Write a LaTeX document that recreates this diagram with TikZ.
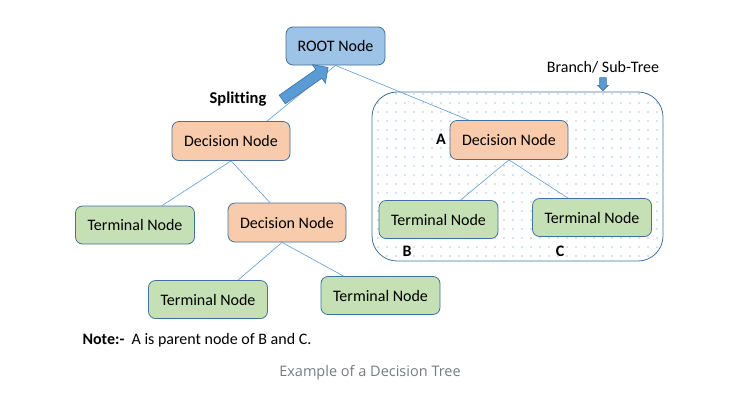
\documentclass[tikz,border=0pt]{standalone}
\usepackage{fontspec}
\setmainfont{Carlito}[Ligatures=NoCommon]
\newfontfamily\leyendafont{Open Sans}
\usetikzlibrary{calc,shapes.arrows,patterns.meta}
\definecolor{borde}{HTML}{41719C}
\definecolor{raiz}{HTML}{9DC3E6}
\definecolor{decision}{HTML}{F8CBAD}
\definecolor{terminal}{HTML}{C5E0B4}
\definecolor{linea}{HTML}{5B9BD5}
\definecolor{flecha}{HTML}{5B9BD5}
\definecolor{punto}{HTML}{4A86C5}
\definecolor{leyenda}{HTML}{767B83}
\tikzset{
  caja/.style={draw=borde, line width=0.8pt, rounded corners=7pt, inner sep=0pt,
    font=\fontsize{16}{19}\selectfont},
  nodoraiz/.style={caja, fill=raiz, minimum width=99pt, minimum height=38pt},
  nododec/.style={caja, fill=decision, minimum width=118pt, minimum height=39pt},
  nodoterm/.style={caja, fill=terminal, minimum width=119pt, minimum height=38pt},
  conector/.style={draw=linea, line width=0.6pt},
  etiqueta/.style={font=\fontsize{16}{19}\selectfont\bfseries},
  bloque/.style={single arrow, draw=borde, fill=flecha, line width=0.6pt}
}
\begin{document}
\begin{tikzpicture}[x=1pt, y=-1pt]
    \useasboundingbox (0,0) rectangle (739,400);

    % Subarbol
    \node[draw=borde, line width=0.8pt, rounded corners=25pt,
          pattern={Dots[distance=9pt, radius=0.7pt]}, pattern color=punto,
          minimum width=291pt, minimum height=169pt] (rama) at (517.5,176.5) {};
    \node[font=\fontsize{16}{19}\selectfont] (ramatxt) at (603,67) {Branch/ Sub-Tree};
    \node[bloque, rotate=-90, inner sep=3pt, minimum height=13pt,
          single arrow head extend=2pt] (ramaflecha) at (603,82.5) {};

    % Nodos
    \node[nodoraiz] (root) at (335.5,46) {ROOT Node};
    \node[nododec] (dec1) at (231,141) {Decision Node};
    \node[nodoterm] (term1) at (135,225) {Terminal Node};
    \node[nododec] (dec2) at (287,222.5) {Decision Node};
    \node[nodoterm] (term2) at (208,299.5) {Terminal Node};
    \node[nodoterm] (term3) at (380.5,295.5) {Terminal Node};
    \node[nododec] (decA) at (509,140) {Decision Node};
    \node[nodoterm] (termB) at (438.5,219.5) {Terminal Node};
    \node[nodoterm] (termC) at (592,217.5) {Terminal Node};

    % Conectores
    \draw[conector] (root.south) -- ($(dec1.north)+(36,0)$);
    \draw[conector] (root.south) -- ($(decA.north west)+(19,0)$);
    \draw[conector] (dec1.south) -- ($(term1.north)+(27,0)$);
    \draw[conector] (dec1.south) -- ($(dec2.north)+(-17,0)$);
    \draw[conector] ($(dec2.south)+(-5,0)$) -- ($(term2.north)+(30,0)$);
    \draw[conector] ($(dec2.south)+(-5,0)$) -- ($(term3.north)+(-37,0)$);
    \draw[conector] (decA.south) -- ($(termB.north)+(22,0)$);
    \draw[conector] (decA.south) -- ($(termC.north)+(-24,0)$);

    % Splitting
    \node[bloque, rotate=35, inner sep=5pt, minimum height=56pt,
          single arrow head extend=6pt] (split) at (303,85) {};
    \node[etiqueta, font=\fontsize{16.5}{19}\selectfont\bfseries] (splittxt) at (238,99) {Splitting};

    % Etiquetas A, B, C
    \node[etiqueta] (etA) at (441,139) {A};
    \node[etiqueta] (etB) at (407,251) {B};
    \node[etiqueta] (etC) at (560,251) {C};

    % Nota y titulo
    \node[anchor=west, font=\fontsize{16}{19}\selectfont] (nota) at (79,340)
        {\textbf{Note:-}\ \ A is parent node of B and C.};
    \node[font=\leyendafont\fontsize{14.5}{17}\selectfont, text=leyenda] (titulo) at (370,373)
        {Example of a Decision Tree};
\end{tikzpicture}
\end{document}
